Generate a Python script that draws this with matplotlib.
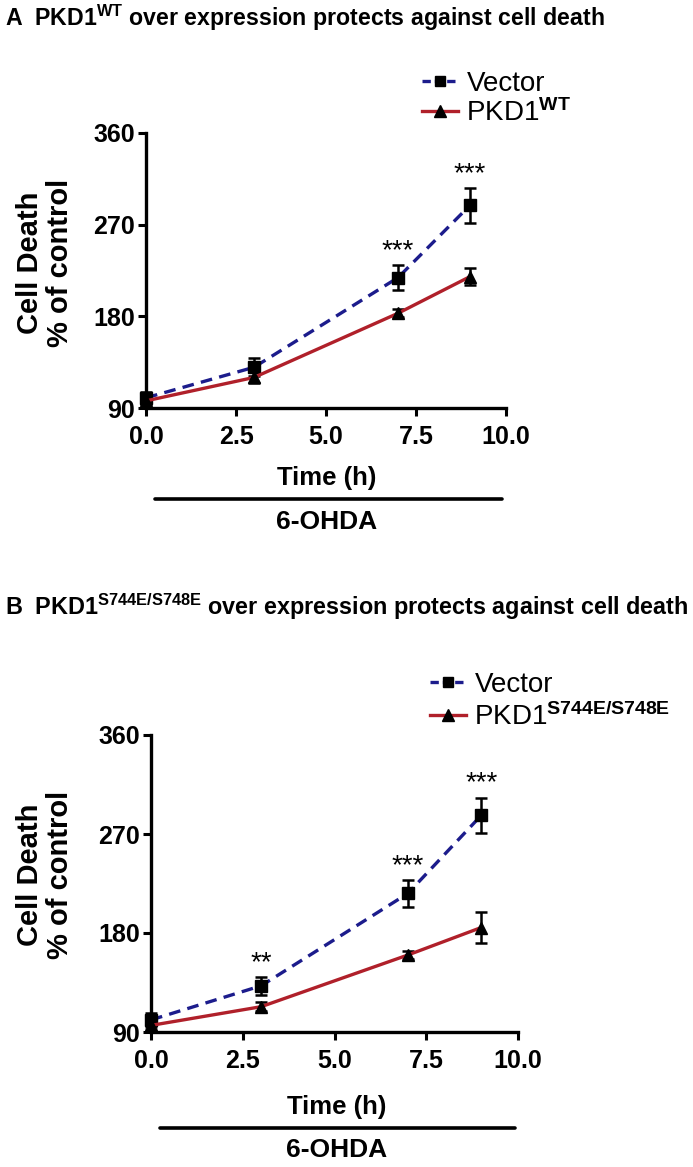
import matplotlib
matplotlib.use("Agg")
import matplotlib.pyplot as plt
from matplotlib.lines import Line2D

plt.rcParams['font.family'] = ['Liberation Sans', 'DejaVu Sans']
plt.rcParams['font.weight'] = 'bold'
plt.rcParams['mathtext.fontset'] = 'custom'
plt.rcParams['mathtext.rm'] = 'Liberation Sans'
plt.rcParams['mathtext.bf'] = 'Liberation Sans:bold'
plt.rcParams['mathtext.default'] = 'rm'

# data
time_h = [0, 3, 7, 9]

vec_a = [100, 130, 218, 289]
vec_a_err = [6, 9, 12, 17]
wt_a = [97, 120, 183, 219]
wt_a_err = [4, 5, 4, 8]
stars_a = ['', '', '***', '***']

vec_b = [101, 132, 216, 287]
vec_b_err = [6, 8, 12, 16]
mut_b = [96, 113, 160, 185]
mut_b_err = [4, 4, 4, 14]
stars_b = ['', '**', '***', '***']

yticks = [90, 180, 270, 360]
xticks = [0, 2.5, 5, 7.5, 10]

BLUE = '#1c1c8c'
RED = '#b0202a'

fig = plt.figure(figsize=(6.93, 11.67), dpi=100)
W, H = 693, 1167


def px(x, y):
    return x / W, 1 - y / H


def panel(ax, vec, vec_err, other, other_err, stars):
    ax.errorbar(time_h, vec, yerr=vec_err, color=BLUE, ls=(0, (3.5, 2.2)), lw=2.4,
                marker='s', ms=8, mfc='black', mec='black', ecolor='black',
                elinewidth=1.8, capsize=4.5, capthick=1.8, clip_on=False, zorder=3)
    ax.errorbar(time_h, other, yerr=other_err, color=RED, ls='-', lw=2.4,
                marker='^', ms=9, mfc='black', mec='black', ecolor='black',
                elinewidth=1.8, capsize=4.5, capthick=1.8, clip_on=False, zorder=3)
    for t, v, e, s in zip(time_h, vec, vec_err, stars):
        if s:
            ax.text(t, v + e + 1, s, ha='center', va='bottom', fontsize=20,
                    fontweight='normal')
    ax.set_xlim(0, 10)
    ax.set_ylim(90, 360)
    ax.set_xticks(xticks)
    ax.set_xticklabels(['%.1f' % v for v in xticks])
    ax.set_yticks(yticks)
    ax.spines['top'].set_visible(False)
    ax.spines['right'].set_visible(False)
    for sp in ['left', 'bottom']:
        ax.spines[sp].set_linewidth(2.4)
    ax.tick_params(width=2.2, length=6, labelsize=18)
    ax.tick_params(axis='x', pad=6)
    ax.tick_params(axis='y', pad=2)

    handles = [Line2D([], [], color=BLUE, ls=(0, (2.5, 1.2)), lw=2.4, marker='s', ms=7,
                      mfc='black', mec='black'),
               Line2D([], [], color=RED, ls='-', lw=2.4, marker='^', ms=8,
                      mfc='black', mec='black')]
    return handles


leg_prop = {'weight': 'normal', 'size': 20}

# panel A
ax_a = fig.add_axes([146 / W, 1 - 408 / H, 360 / W, 275 / H])
h = panel(ax_a, vec_a, vec_a_err, wt_a, wt_a_err, stars_a)
fig.legend(h, ['Vector', r'PKD1$^{WT}$'], loc='upper left', bbox_to_anchor=px(422, 71),
           frameon=False, handlelength=1.3, handletextpad=0.3,
           labelspacing=0.08, borderpad=0, borderaxespad=0, prop=leg_prop)
fig.text(*px(5, 18), r'A  PKD1$^{\mathbf{WT}}$ over expression protects against cell death',
         fontsize=16.7, fontweight='bold', ha='left', va='center')
fig.text(*px(45, 263), 'Cell Death\n% of control', rotation=90, ha='center', va='center',
         fontsize=21, fontweight='bold', linespacing=1.05)
fig.text(*px(327, 478), 'Time (h)', ha='center', va='center', fontsize=18.5, fontweight='bold')
fig.add_artist(Line2D([155 / W, 502 / W], [1 - 499 / H, 1 - 499 / H], color='black', lw=2.6,
                      solid_capstyle='round'))
fig.text(*px(327, 522), '6-OHDA', ha='center', va='center', fontsize=19, fontweight='bold')

# panel B
ax_b = fig.add_axes([151 / W, 1 - 1032 / H, 367 / W, 297 / H])
h = panel(ax_b, vec_b, vec_b_err, mut_b, mut_b_err, stars_b)
fig.legend(h, ['Vector', r'PKD1$^{S744E/S748E}$'], loc='upper left', bbox_to_anchor=px(430, 672),
           frameon=False, handlelength=1.3, handletextpad=0.3,
           labelspacing=0.15, borderpad=0, borderaxespad=0, prop=leg_prop)
fig.text(*px(5, 607), r'B  PKD1$^{\mathbf{S744E/S748E}}$ over expression protects against cell death',
         fontsize=16.85, fontweight='bold', ha='left', va='center')
fig.text(*px(45, 875), 'Cell Death\n% of control', rotation=90, ha='center', va='center',
         fontsize=21, fontweight='bold', linespacing=1.05)
fig.text(*px(337, 1107), 'Time (h)', ha='center', va='center', fontsize=18.5, fontweight='bold')
fig.add_artist(Line2D([160 / W, 515 / W], [1 - 1128 / H, 1 - 1128 / H], color='black', lw=2.6,
                      solid_capstyle='round'))
fig.text(*px(337, 1150), '6-OHDA', ha='center', va='center', fontsize=19, fontweight='bold')

fig.savefig('out.png', dpi=100)
